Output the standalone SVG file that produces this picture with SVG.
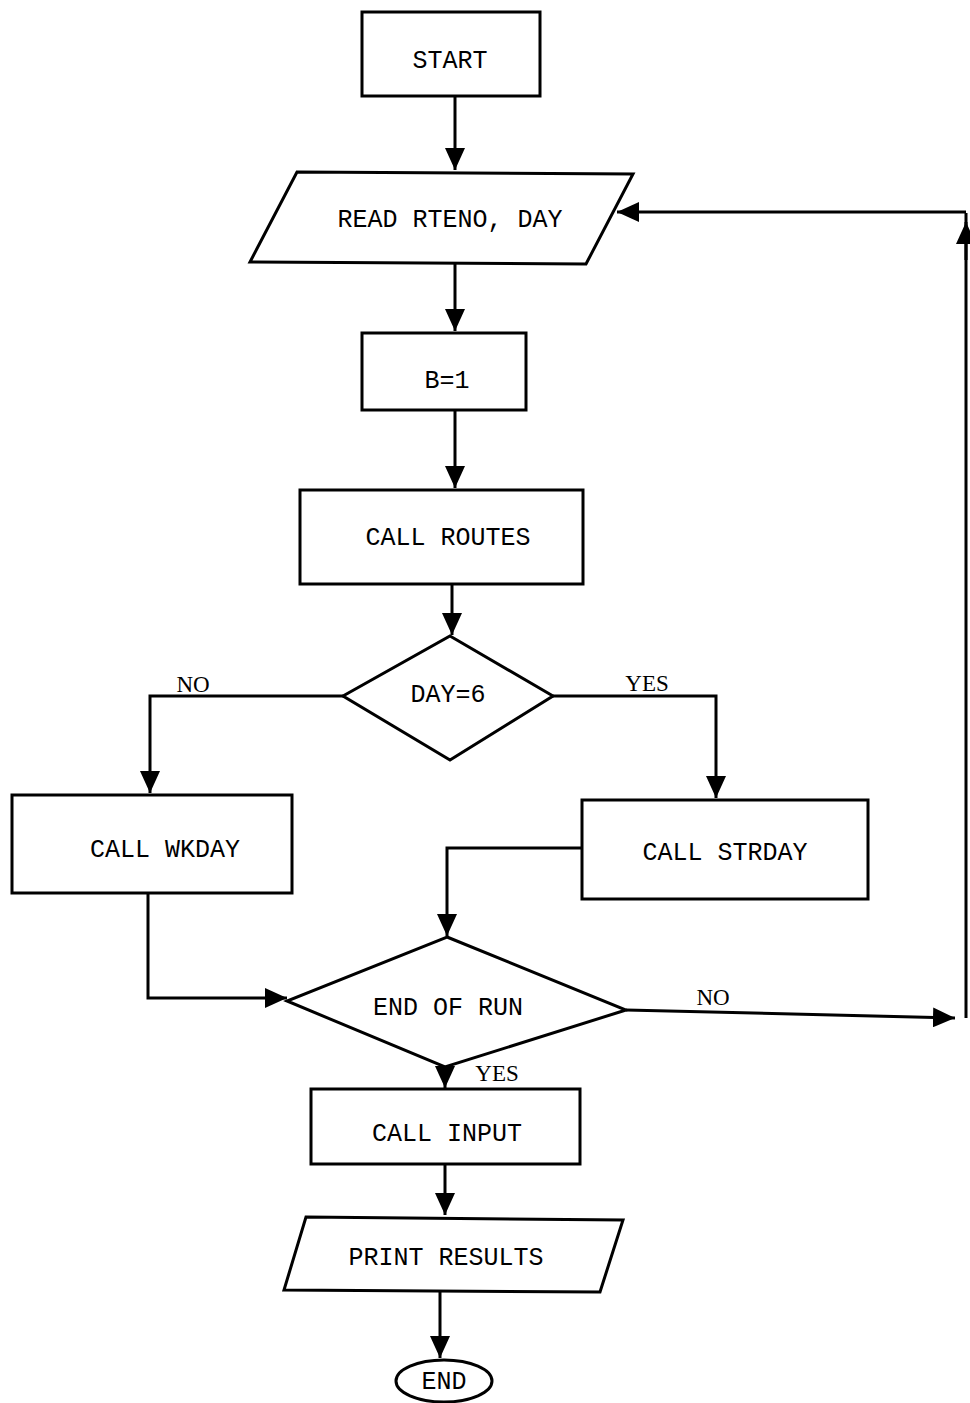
<svg xmlns="http://www.w3.org/2000/svg" width="970" height="1403" viewBox="0 0 970 1403">
<style>
.s{fill:#fff;stroke:#000;stroke-width:3;stroke-linejoin:miter}
.t{font-family:"Liberation Mono","DejaVu Sans Mono",monospace;font-size:25px;fill:#000;text-anchor:middle}
.l{font-family:"Liberation Serif","DejaVu Serif",serif;font-size:23px;fill:#000;text-anchor:middle}
.c{fill:none;stroke:#000;stroke-width:3}
</style>
<defs>
<marker id="a" viewBox="0 0 10 10" refX="9" refY="5" markerWidth="7" markerHeight="7" orient="auto" markerUnits="userSpaceOnUse" style="overflow:visible">
<path d="M0,0 L10,5 L0,10 z" fill="#000" transform="scale(2.2) translate(-5.5,-2.7)"/>
</marker>
<marker id="b" viewBox="0 0 22 20" refX="22" refY="10" markerWidth="22" markerHeight="20" orient="auto" markerUnits="userSpaceOnUse">
<path d="M0,0 L22,10 L0,20 z" fill="#000"/>
</marker>
</defs>
<g id="connectors">
<path class="c" d="M455,96 V170" marker-end="url(#b)"/>
<path class="c" d="M455,263 V331" marker-end="url(#b)"/>
<path class="c" d="M455,410 V488" marker-end="url(#b)"/>
<path class="c" d="M452,584 V635" marker-end="url(#b)"/>
<path class="c" d="M343,696 H150 V793" marker-end="url(#b)"/>
<path class="c" d="M553,696 H716 V798" marker-end="url(#b)"/>
<path class="c" d="M582,848 H447 V936" marker-end="url(#b)"/>
<path class="c" d="M148,893 V998 H287" marker-end="url(#b)"/>
<path class="c" d="M626,1010 L955,1018" marker-end="url(#b)"/>
<path class="c" d="M966,1018 V213"/>
<path class="c" d="M966,260 V222" marker-end="url(#b)"/>
<path class="c" d="M966,212 H617" marker-end="url(#b)"/>
<path class="c" d="M445,1067 V1088" marker-end="url(#b)"/>
<path class="c" d="M445,1164 V1215" marker-end="url(#b)"/>
<path class="c" d="M440,1292 V1358" marker-end="url(#b)"/>
<text class="l" x="193" y="692">NO</text>
<text class="l" x="647" y="691">YES</text>
<text class="l" x="713" y="1005">NO</text>
<text class="l" x="497" y="1081">YES</text>
</g>
<g id="start"><rect class="s" x="362" y="12" width="178" height="84"/><text class="t" x="450" y="68">START</text></g>
<g id="read"><polygon class="s" points="297,172 633,174 586,264 250,262"/><text class="t" x="450" y="227">READ RTENO, DAY</text></g>
<g id="b1"><rect class="s" x="362" y="333" width="164" height="77"/><text class="t" x="447" y="388">B=1</text></g>
<g id="routes"><rect class="s" x="300" y="490" width="283" height="94"/><text class="t" x="448" y="545">CALL ROUTES</text></g>
<g id="day6"><polygon class="s" points="450,636 553,696 450,760 343,696"/><text class="t" x="448" y="702">DAY=6</text></g>
<g id="wkday"><rect class="s" x="12" y="795" width="280" height="98"/><text class="t" x="165" y="857">CALL WKDAY</text></g>
<g id="strday"><rect class="s" x="582" y="800" width="286" height="99"/><text class="t" x="725" y="860">CALL STRDAY</text></g>
<g id="endofrun"><polygon class="s" points="447,937 626,1010 445,1067 287,1001"/><text class="t" x="448" y="1015">END OF RUN</text></g>
<g id="input"><rect class="s" x="311" y="1089" width="269" height="75"/><text class="t" x="447" y="1141">CALL INPUT</text></g>
<g id="print"><polygon class="s" points="306,1217 623,1220 600,1292 284,1290"/><text class="t" x="446" y="1265">PRINT RESULTS</text></g>
<g id="end"><ellipse class="s" cx="444" cy="1381" rx="48" ry="21"/><text class="t" x="444" y="1389">END</text></g>
</svg>
